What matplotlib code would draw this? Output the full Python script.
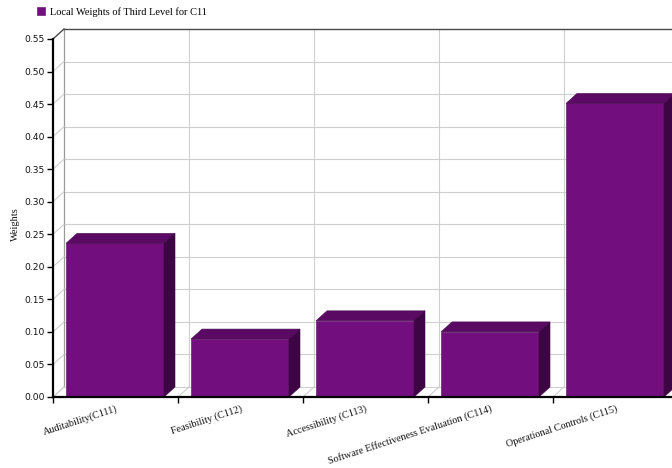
import matplotlib
matplotlib.use("Agg")
import matplotlib.pyplot as plt
from matplotlib.patches import Polygon
from matplotlib.ticker import FixedLocator, FormatStrFormatter

categories = ["Auditability(C111)", "Feasibility (C112)", "Accessibility (C113)",
              "Software Effectiveness Evaluation (C114)", "Operational Controls (C115)"]
weights = [0.236, 0.089, 0.117, 0.100, 0.451]
series_name = "Local Weights of Third Level for C11"
y_ticks = [0.00, 0.05, 0.10, 0.15, 0.20, 0.25, 0.30, 0.35, 0.40, 0.45, 0.50, 0.55]

FRONT = "#720E7D"
TOP = "#5B0A64"
SIDE = "#3D0544"
GRID = "#cfcfcf"
TEXT = "#111111"

W, H = 672, 468
fig = plt.figure(figsize=(W / 100, H / 100), dpi=100)
fig.patch.set_facecolor("white")

# front plane of the plot area (extends a little past the right edge)
ax = fig.add_axes([53 / W, 71 / H, 625 / W, 358 / H])
n = len(categories)
ymax = y_ticks[-1]
ax.set_xlim(0, n)
ax.set_ylim(0, ymax)
ax.set_facecolor("none")

# depth offset of the pseudo-3D box, in data units
DX = 11 / 125
DY = 10 / (358 / ymax)

# back wall
wall = Polygon([(DX, DY), (n + DX, DY), (n + DX, ymax + DY), (DX, ymax + DY)],
               closed=True, facecolor="white", edgecolor="none", zorder=0, clip_on=False)
ax.add_patch(wall)
for t in y_ticks[1:-1]:
    ax.plot([DX, n + DX], [t + DY, t + DY], color=GRID, lw=0.8, zorder=0.5, clip_on=False)
for i in range(1, n):
    ax.plot([i + DX, i + DX], [DY, ymax + DY], color=GRID, lw=0.8, zorder=0.5, clip_on=False)
ax.plot([DX, DX], [DY, ymax + DY], color="#9a9a9a", lw=0.9, zorder=0.6, clip_on=False)
ax.plot([DX, n + DX], [ymax + DY, ymax + DY], color="#4a4a4a", lw=1.0, zorder=0.6, clip_on=False)
ax.plot([DX, n + DX], [DY, DY], color=GRID, lw=0.8, zorder=0.6, clip_on=False)

# left wall diagonals
for t in y_ticks[:-1]:
    ax.plot([0, DX], [t, t + DY], color=GRID, lw=0.8, zorder=0.6, clip_on=False)
ax.plot([0, DX], [ymax, ymax + DY], color="#4a4a4a", lw=1.0, zorder=0.6, clip_on=False)

# floor diagonals
for i in range(0, n + 1):
    ax.plot([i, i + DX], [0, DY], color=GRID, lw=0.8, zorder=0.6, clip_on=False)

# bars: front faces through ax.bar, then top and side faces
inset = 13 / 125
bw = 98 / 125
xs = [i + inset for i in range(n)]
bars = ax.bar(xs, weights, width=bw, align="edge", color=FRONT, edgecolor="#55095e",
              linewidth=0.4, zorder=3, label=series_name, clip_on=False)
for x0, v in zip(xs, weights):
    x1 = x0 + bw
    top = Polygon([(x0, v), (x0 + DX, v + DY), (x1 + DX, v + DY), (x1, v)], closed=True,
                  facecolor=TOP, edgecolor="#48074f", linewidth=0.4, zorder=3, clip_on=False)
    side = Polygon([(x1, 0), (x1 + DX, DY), (x1 + DX, v + DY), (x1, v)], closed=True,
                   facecolor=SIDE, edgecolor=SIDE, linewidth=0.4, zorder=3, clip_on=False)
    ax.add_patch(top)
    ax.add_patch(side)

# axes lines
for s in ["top", "right"]:
    ax.spines[s].set_visible(False)
for s in ["left", "bottom"]:
    ax.spines[s].set_color("black")
    ax.spines[s].set_linewidth(1.6)
    ax.spines[s].set_zorder(5)

ax.yaxis.set_major_locator(FixedLocator(y_ticks))
ax.yaxis.set_major_formatter(FormatStrFormatter("%.2f"))
ax.tick_params(axis="y", length=4, width=1, color="black", pad=2,
               labelsize=6.6, labelcolor=TEXT)

# tick marks at category boundaries, labels at category centres
ax.xaxis.set_minor_locator(FixedLocator(list(range(0, n + 1))))
ax.set_xticks([i + 0.5 for i in range(n)])
ax.set_xticklabels(categories, rotation=18, ha="right", rotation_mode="anchor",
                   fontfamily="Liberation Serif", fontsize=7.3, color=TEXT)
ax.tick_params(axis="x", which="major", length=0, pad=5)
ax.tick_params(axis="x", which="minor", length=4, width=1, color="black")

fig.text(15 / W, 1 - 224 / H, "Weights", rotation=90, ha="center", va="center",
         fontfamily="Liberation Serif", fontsize=7.5, color=TEXT)

fig.legend(handles=[bars], labels=[series_name], loc="upper left",
           bbox_to_anchor=(37 / W, 1 - 7 / H), frameon=False,
           prop={"family": "Liberation Serif", "size": 7.5},
           handlelength=0.8, handleheight=0.8, handletextpad=0.4, borderpad=0,
           borderaxespad=0)

fig.savefig("out.png", dpi=100, facecolor="white")
